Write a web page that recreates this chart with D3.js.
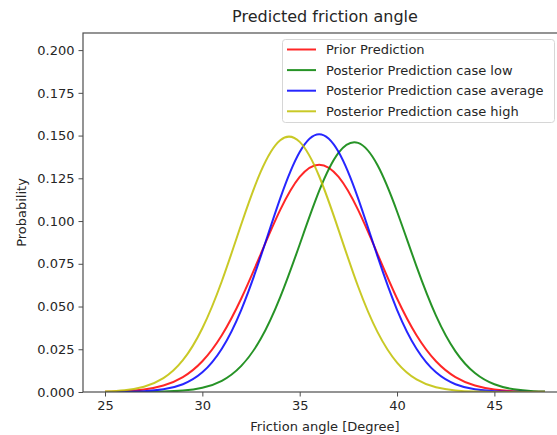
<!DOCTYPE html>
<html>
<head>
<meta charset="utf-8">
<script src="https://cdn.jsdelivr.net/npm/d3@7"></script>
<style>
  html, body { margin: 0; padding: 0; background: #fff; }
  svg { display: block; }
  text { font-family: "DejaVu Sans", sans-serif; fill: #262626; }
</style>
</head>
<body>
<svg id="chart" width="557" height="435"></svg>
<script>
// ---- data ----
const angles = [25, 26, 27, 28, 29, 30, 31, 32, 33, 34, 35, 36, 37, 38, 39, 40, 41, 42, 43, 44, 45, 46, 47, 47.6];
const priorPrediction = [0.00016, 0.00051, 0.00148, 0.0038, 0.00874, 0.0180, 0.0332, 0.0547, 0.0807, 0.1065, 0.1258, 0.1330, 0.1258, 0.1065, 0.0807, 0.0547, 0.0332, 0.0180, 0.00874, 0.0038, 0.00148, 0.00051, 0.00016, 0.00008];
const posteriorLow = [0.0, 0.00001, 0.00006, 0.00023, 0.00081, 0.00247, 0.00657, 0.0153, 0.0311, 0.0555, 0.0863, 0.1176, 0.1400, 0.1457, 0.1326, 0.1056, 0.0735, 0.0447, 0.0238, 0.0111, 0.00451, 0.00161, 0.0005, 0.00023];
const posteriorAverage = [0.00003, 0.00012, 0.00046, 0.00156, 0.00455, 0.0115, 0.0253, 0.0481, 0.0793, 0.1133, 0.1404, 0.1508, 0.1404, 0.1133, 0.0793, 0.0481, 0.0253, 0.0115, 0.00455, 0.00156, 0.00046, 0.00012, 0.00003, 0.00001];
const posteriorHigh = [0.00028, 0.0010, 0.00305, 0.00808, 0.0186, 0.0373, 0.0648, 0.0981, 0.1289, 0.1473, 0.1463, 0.1262, 0.0947, 0.0617, 0.0350, 0.0172, 0.00737, 0.00274, 0.00089, 0.00025, 0.00006, 0.00001, 0.0, 0.0];
const seriesNames = ["Prior Prediction", "Posterior Prediction case low", "Posterior Prediction case average", "Posterior Prediction case high"];
const seriesColors = ["#ff0000", "#008000", "#0000ff", "#bfbf00"];
const xTicks = [25, 30, 35, 40, 45];
const yTicks = [0, 0.025, 0.05, 0.075, 0.1, 0.125, 0.15, 0.175, 0.2];
const titleText = "Predicted friction angle";
const xLabel = "Friction angle [Degree]";
const yLabel = "Probability";

// ---- layout ----
const svg = d3.select("#chart");
const pLeft = 83, pRight = 567, pTop = 33, pBottom = 392;

const x = d3.scaleLinear().domain([23.87, 48.73]).range([pLeft, pRight]);
const y = d3.scaleLinear().domain([0, 0.21]).range([pBottom, pTop]);

svg.append("defs").append("clipPath").attr("id", "plotclip")
  .append("rect").attr("x", pLeft).attr("y", pTop).attr("width", pRight - pLeft).attr("height", pBottom - pTop);

const allSeries = [priorPrediction, posteriorLow, posteriorAverage, posteriorHigh];

const line = d3.line()
  .x(d => x(d[0]))
  .y(d => y(d[1]))
  .curve(d3.curveNatural);

const plot = svg.append("g").attr("clip-path", "url(#plotclip)");
allSeries.forEach((vals, i) => {
  const pts = angles.map((a, k) => [a, vals[k]]);
  plot.append("path")
    .attr("d", line(pts))
    .attr("fill", "none")
    .attr("stroke", seriesColors[i])
    .attr("stroke-opacity", 0.85)
    .attr("stroke-width", 2);
});

// axes
const axisColor = "#4d4d4d";
const xAxis = svg.append("g").attr("transform", `translate(0,${pBottom})`)
  .call(d3.axisBottom(x).tickValues(xTicks).tickFormat(d3.format("d")).tickSize(4.5).tickPadding(4));
const yAxis = svg.append("g").attr("transform", `translate(${pLeft},0)`)
  .call(d3.axisLeft(y).tickValues(yTicks).tickFormat(d3.format(".3f")).tickSize(4.5).tickPadding(4));
[xAxis, yAxis].forEach(g => {
  g.select(".domain").remove();
  g.selectAll(".tick line").attr("stroke", axisColor).attr("stroke-width", 1);
  g.selectAll(".tick text").attr("font-size", 13).attr("font-family", "DejaVu Sans").attr("fill", "#262626");
});

// spines
svg.append("rect")
  .attr("x", pLeft).attr("y", pTop)
  .attr("width", pRight - pLeft).attr("height", pBottom - pTop)
  .attr("fill", "none").attr("stroke", axisColor).attr("stroke-width", 1.2);

// title and labels
svg.append("text").attr("x", (pLeft + pRight) / 2).attr("y", 22)
  .attr("text-anchor", "middle").attr("font-size", 16).text(titleText);
svg.append("text").attr("x", (pLeft + pRight) / 2).attr("y", 431)
  .attr("text-anchor", "middle").attr("font-size", 13).text(xLabel);
svg.append("text").attr("transform", `translate(26,${(pTop + pBottom) / 2}) rotate(-90)`)
  .attr("text-anchor", "middle").attr("font-size", 13).text(yLabel);

// legend
const lg = svg.append("g");
lg.append("rect").attr("x", 282.5).attr("y", 39.5).attr("width", 272).attr("height", 83)
  .attr("rx", 3).attr("fill", "#fff").attr("fill-opacity", 0.85)
  .attr("stroke", "#d6d6d6").attr("stroke-width", 1);
seriesNames.forEach((name, i) => {
  const yy = 49.5 + i * 20.6;
  lg.append("line").attr("x1", 287).attr("x2", 316).attr("y1", yy).attr("y2", yy)
    .attr("stroke", seriesColors[i]).attr("stroke-opacity", 0.85).attr("stroke-width", 2);
  lg.append("text").attr("x", 326).attr("y", yy).attr("dy", "0.36em")
    .attr("font-size", 13).text(name);
});
</script>
</body>
</html>
